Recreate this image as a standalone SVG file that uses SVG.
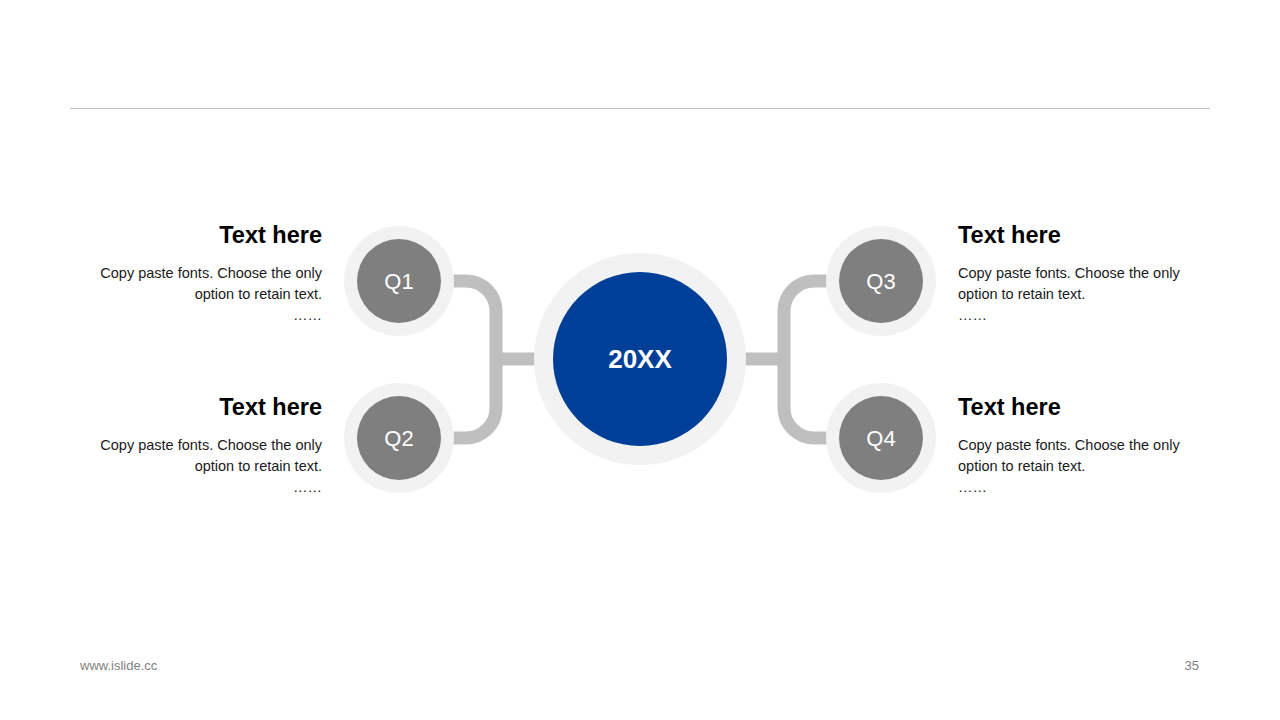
<svg xmlns="http://www.w3.org/2000/svg" width="1280" height="720" viewBox="0 0 1280 720">
<style>
.ring{fill:#f2f2f2}
.q{fill:#7f7f7f}
.ql{font-family:"Liberation Sans",Arial,sans-serif;font-size:22px;fill:#ffffff;text-anchor:middle}
.t{font-family:"Liberation Sans",Arial,sans-serif;font-size:23.5px;font-weight:bold;fill:#000}
.b{font-family:"Liberation Sans",Arial,sans-serif;font-size:14.5px;fill:#1a1a1a}
.r{text-anchor:end}
.conn{fill:none;stroke:#bfbfbf;stroke-width:13}
.foot{font-family:"Liberation Sans",Arial,sans-serif;font-size:13px;fill:#808080}
</style>
<rect width="1280" height="720" fill="#ffffff"/>
<line x1="70" y1="108.5" x2="1210" y2="108.5" stroke="#bfbfbf" stroke-width="1"/>
<g id="connectors">
<path class="conn" d="M440 281 H466 A30 30 0 0 1 496 311 V408 A30 30 0 0 1 466 438 H440"/>
<path class="conn" d="M496 359 H540"/>
<path class="conn" d="M840 281 H814 A30 30 0 0 0 784 311 V408 A30 30 0 0 0 814 438 H840"/>
<path class="conn" d="M784 359 H740"/>
</g>
<g id="center">
<circle class="ring" cx="640" cy="359" r="106"/>
<circle cx="640" cy="359" r="87" fill="#003f98"/>
<text x="640" y="368" text-anchor="middle" font-family="Liberation Sans,Arial,sans-serif" font-size="26" font-weight="bold" fill="#ffffff">20XX</text>
</g>
<g id="q1">
<circle class="ring" cx="399" cy="281" r="55"/>
<circle class="q" cx="399" cy="281" r="42"/>
<text class="ql" x="399" y="289">Q1</text>
</g>
<g id="q2">
<circle class="ring" cx="399" cy="438" r="55"/>
<circle class="q" cx="399" cy="438" r="42"/>
<text class="ql" x="399" y="446">Q2</text>
</g>
<g id="q3">
<circle class="ring" cx="881" cy="281" r="55"/>
<circle class="q" cx="881" cy="281" r="42"/>
<text class="ql" x="881" y="289">Q3</text>
</g>
<g id="q4">
<circle class="ring" cx="881" cy="438" r="55"/>
<circle class="q" cx="881" cy="438" r="42"/>
<text class="ql" x="881" y="446">Q4</text>
</g>
<g id="text-q1">
<text class="t r" x="322" y="243">Text here</text>
<text class="b r" x="322" y="278">Copy paste fonts. Choose the only</text>
<text class="b r" x="322" y="299">option to retain text.</text>
<text class="b r" x="322" y="320">……</text>
</g>
<g id="text-q2">
<text class="t r" x="322" y="415">Text here</text>
<text class="b r" x="322" y="450">Copy paste fonts. Choose the only</text>
<text class="b r" x="322" y="471">option to retain text.</text>
<text class="b r" x="322" y="492">……</text>
</g>
<g id="text-q3">
<text class="t" x="958" y="243">Text here</text>
<text class="b" x="958" y="278">Copy paste fonts. Choose the only</text>
<text class="b" x="958" y="299">option to retain text.</text>
<text class="b" x="958" y="320">……</text>
</g>
<g id="text-q4">
<text class="t" x="958" y="415">Text here</text>
<text class="b" x="958" y="450">Copy paste fonts. Choose the only</text>
<text class="b" x="958" y="471">option to retain text.</text>
<text class="b" x="958" y="492">……</text>
</g>
<text class="foot" x="80" y="670">www.islide.cc</text>
<text class="foot" x="1199" y="670" text-anchor="end">35</text>
</svg>
